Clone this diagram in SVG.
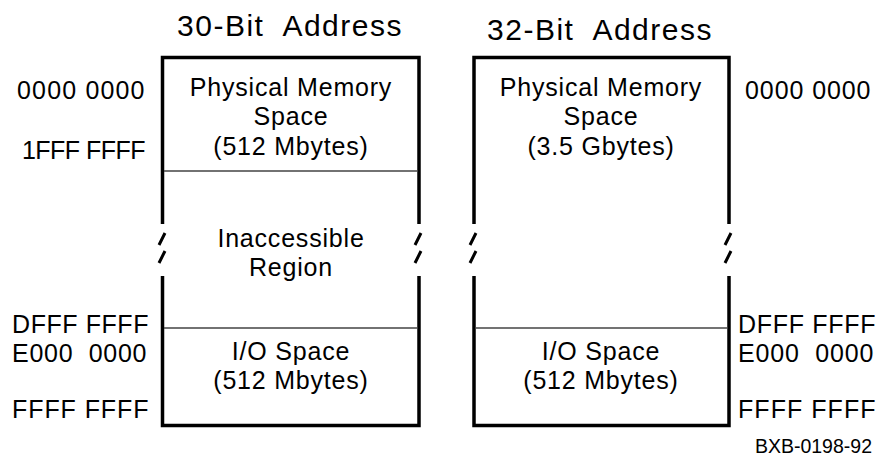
<svg xmlns="http://www.w3.org/2000/svg" width="879" height="468" viewBox="0 0 879 468">
<style>
text{font-family:"Liberation Sans",Arial,sans-serif;fill:#000;white-space:pre}
.t{font-size:30px;letter-spacing:1.5px;text-anchor:middle}
.b{font-size:25px;letter-spacing:0.8px;text-anchor:middle}
.l{font-size:25px;letter-spacing:0.5px}
.s{font-size:19.5px}
.edge{stroke:#000;stroke-width:3.5;fill:none}
.sl{stroke:#000;stroke-width:3;fill:none}
.div{stroke:#444;stroke-width:1.3;fill:none}
</style>
<rect width="879" height="468" fill="#fff"/>
<text class="t" x="290" y="36" xml:space="preserve">30-Bit  Address</text>
<text class="t" x="600" y="40" xml:space="preserve">32-Bit  Address</text>
<g id="box30">
<path class="edge" d="M162.5,224 V57.5 H419 V224 M162.5,276 V425.5 H419 V276"/>
<path class="sl" d="M165,233 L159,245 M165,251 L159,263 M421,233 L415,245 M421,251 L415,263"/>
<path class="div" d="M164,171 H418 M164,328 H418"/>
<text class="b" x="291" y="96">Physical Memory</text>
<text class="b" x="291" y="125">Space</text>
<text class="b" x="291" y="155">(512 Mbytes)</text>
<text class="b" x="291" y="247">Inaccessible</text>
<text class="b" x="291" y="276">Region</text>
<text class="b" x="291" y="360">I/O Space</text>
<text class="b" x="291" y="389">(512 Mbytes)</text>
</g>
<g id="box32">
<path class="edge" d="M474,224 V57.5 H729 V224 M474,276 V425.5 H729 V276"/>
<path class="sl" d="M476,233 L470,245 M476,251 L470,263 M731,233 L725,245 M731,251 L725,263"/>
<path class="div" d="M475,328 H728"/>
<text class="b" x="601" y="96">Physical Memory</text>
<text class="b" x="601" y="125">Space</text>
<text class="b" x="601" y="155">(3.5 Gbytes)</text>
<text class="b" x="601" y="360">I/O Space</text>
<text class="b" x="601" y="389">(512 Mbytes)</text>
</g>
<g id="labels-left">
<text class="l" x="17" y="99" textLength="128">0000 0000</text>
<text class="l" x="22" y="159" textLength="124">1FFF FFFF</text>
<text class="l" x="12" y="333" textLength="137">DFFF FFFF</text>
<text class="l" x="12" y="362" textLength="135" xml:space="preserve">E000  0000</text>
<text class="l" x="12" y="418" textLength="137">FFFF FFFF</text>
</g>
<g id="labels-right">
<text class="l" x="745" y="99" textLength="126">0000 0000</text>
<text class="l" x="738" y="333" textLength="138">DFFF FFFF</text>
<text class="l" x="738" y="362" textLength="136" xml:space="preserve">E000  0000</text>
<text class="l" x="738" y="418" textLength="138">FFFF FFFF</text>
</g>
<text class="s" x="872" y="453" text-anchor="end">BXB-0198-92</text>
</svg>
